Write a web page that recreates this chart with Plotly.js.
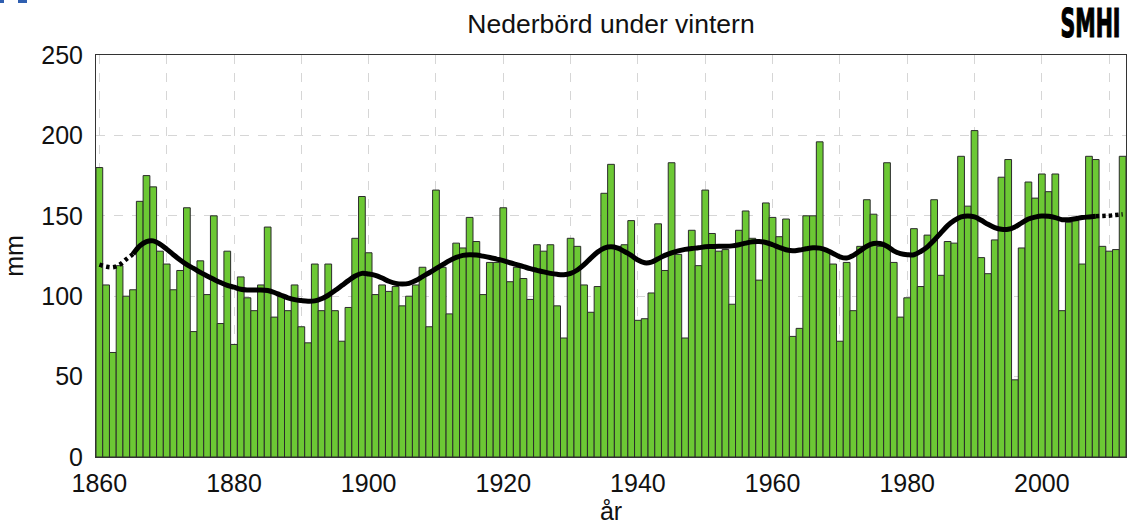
<!DOCTYPE html>
<html>
<head>
<meta charset="utf-8">
<script src="https://cdn.plot.ly/plotly-3.0.1.min.js"></script>
<style>
  html, body { margin: 0; padding: 0; background: #ffffff; }
  #chart { width: 1127px; height: 530px; }
</style>
</head>
<body>
<div id="chart"></div>
<script>
// ---- Data ----
const firstYear = 1860;
const lastYear = 2012;

// Winter precipitation (mm), one value per year 1860-2012
const precip = [
  180, 107, 65, 119, 100, 104, 159, 175, 168, 128,   // 1860-1869
  120, 104, 116, 155, 78, 122, 101, 150, 83, 128,    // 1870-1879
  70, 112, 99, 91, 107, 143, 87, 100, 91, 107,       // 1880-1889
  81, 71, 120, 91, 120, 91, 72, 93, 136, 162,        // 1890-1899
  127, 101, 107, 103, 106, 94, 100, 107, 118, 81,    // 1900-1909
  166, 118, 89, 133, 130, 149, 134, 101, 121, 121,   // 1910-1919
  155, 109, 118, 111, 98, 132, 128, 132, 94, 74,     // 1920-1929
  136, 131, 107, 90, 106, 164, 182, 131, 132, 147,   // 1930-1939
  85, 86, 102, 145, 116, 183, 126, 74, 141, 119,     // 1940-1949
  166, 139, 128, 129, 95, 141, 153, 136, 110, 158,   // 1950-1959
  149, 137, 148, 75, 80, 150, 150, 196, 129, 120,    // 1960-1969
  72, 121, 91, 131, 160, 151, 131, 183, 121, 87,     // 1970-1979
  99, 142, 106, 138, 160, 113, 134, 133, 187, 156,   // 1980-1989
  203, 124, 114, 135, 174, 185, 48, 130, 171, 161,   // 1990-1999
  176, 165, 176, 91, 146, 147, 120, 187, 185, 131,   // 2000-2009
  128, 129, 187                                      // 2010-2012
];

// Smoothed curve, solid part 1865-2008
const smoothStartYear = 1865;
const smoothSolid = [
  126.2, 131.3, 134.0, 134.4, 132.4,                         // 1865-1869
  129.3, 125.8, 122.5, 119.6, 117.3, 114.8, 112.6, 110.5, 108.5, 106.8, // 1870-1879
  105.6, 104.3, 103.9, 103.9, 103.9, 103.5, 102.3, 100.6, 99.0, 97.9,   // 1880-1889
  97.3, 96.9, 97.1, 98.4, 100.6, 103.5, 106.6, 109.7, 112.6, 114.2,     // 1890-1899
  113.8, 113.0, 111.3, 109.3, 108.0, 107.6, 108.0, 109.7, 112.2, 114.6, // 1900-1909
  117.1, 119.6, 122.1, 124.1, 125.4, 125.8, 125.6, 124.9, 124.1, 123.1, // 1910-1919
  122.1, 120.8, 119.6, 118.4, 117.1, 116.1, 115.1, 114.2, 113.6, 113.4, // 1920-1929
  114.2, 116.3, 119.6, 123.7, 127.4, 129.9, 130.7, 129.9, 127.8, 125.4, // 1930-1939
  122.5, 120.8, 121.2, 123.3, 125.4, 127.0, 128.2, 129.1, 129.7, 130.1, // 1940-1949
  130.7, 130.9, 131.1, 131.1, 131.3, 132.0, 133.0, 133.8, 134.0, 133.4, // 1950-1959
  132.0, 130.3, 128.9, 128.2, 128.7, 129.5, 130.1, 129.9, 128.7, 126.6, // 1960-1969
  124.5, 123.7, 125.4, 128.2, 131.1, 132.8, 132.8, 131.1, 128.2, 126.5, // 1970-1979
  125.8, 125.8, 127.8, 130.7, 134.8, 139.4, 143.9, 147.2, 149.3, 149.9, // 1980-1989
  149.3, 147.2, 144.7, 142.7, 141.6, 141.6, 143.1, 145.6, 148.0, 149.2, // 1990-1999
  149.9, 149.7, 148.9, 147.6, 147.6, 148.2, 148.9, 149.3, 149.7         // 2000-2008
];

// Dotted ends of the smoothed curve
const dotStartYears = [1860, 1861, 1862, 1863, 1864, 1865];
const dotStartVals  = [119.6, 118.4, 118.0, 119.6, 123.0, 126.2];
const dotEndYears   = [2008, 2009, 2010, 2011, 2012];
const dotEndVals    = [149.7, 149.9, 150.1, 150.5, 150.9];

const xTickLabels = ['1860', '1880', '1900', '1920', '1940', '1960', '1980', '2000'];
const yTickLabels = ['0', '50', '100', '150', '200', '250'];

// ---- Build traces ----
const years = [];
for (let y = firstYear; y <= lastYear; y++) years.push(y);
const smoothYears = smoothSolid.map((_, i) => smoothStartYear + i);

const FONT = 'Liberation Sans, Arial, Helvetica, sans-serif';

const traces = [
  {
    type: 'bar',
    x: years,
    y: precip,
    marker: { color: '#6cc834', line: { color: '#2b2b2b', width: 1 } },
    hoverinfo: 'skip',
    showlegend: false
  },
  {
    type: 'scatter',
    mode: 'lines',
    x: smoothYears,
    y: smoothSolid,
    line: { color: '#000000', width: 5, shape: 'spline', smoothing: 1 },
    hoverinfo: 'skip',
    showlegend: false
  },
  {
    type: 'scatter',
    mode: 'lines',
    x: dotStartYears,
    y: dotStartVals,
    line: { color: '#000000', width: 4.5, dash: '3.5px,3.5px', shape: 'spline' },
    hoverinfo: 'skip',
    showlegend: false
  },
  {
    type: 'scatter',
    mode: 'lines',
    x: dotEndYears,
    y: dotEndVals,
    line: { color: '#000000', width: 4.5, dash: '3.5px,3px', shape: 'spline' },
    hoverinfo: 'skip',
    showlegend: false
  }
];

const GRID = '#d6d6d6';

const layout = {
  width: 1127,
  height: 530,
  margin: { l: 96, r: 1, t: 55, b: 73, pad: 0 },
  paper_bgcolor: '#ffffff',
  plot_bgcolor: '#ffffff',
  font: { family: FONT, color: '#111111', size: 25 },
  bargap: 0,
  showlegend: false,
  title: {
    text: 'Nederbörd under vintern',
    font: { family: FONT, size: 26.5, color: '#111111' },
    x: 0.5, xref: 'paper', xanchor: 'center',
    y: 1 - 24 / 530, yref: 'container', yanchor: 'middle'
  },
  xaxis: {
    range: [1859.5, 2012.5],
    tickmode: 'array',
    tickvals: xTickLabels.map(Number),
    ticktext: xTickLabels,
    ticks: '',
    ticklabelstandoff: 4,
    tickfont: { family: FONT, size: 25, color: '#111111' },
    showgrid: true,
    gridcolor: GRID,
    griddash: 'dash',
    gridwidth: 1,
    minor: { dtick: 10, tick0: 1860, showgrid: true, gridcolor: GRID, griddash: 'dash', gridwidth: 1, ticks: '' },
    showline: true,
    linecolor: '#333333',
    linewidth: 1,
    mirror: true,
    zeroline: false,
    title: { text: 'år', font: { family: FONT, size: 25, color: '#111111' }, standoff: 4 },
    fixedrange: true
  },
  yaxis: {
    range: [0, 250],
    tickmode: 'array',
    tickvals: yTickLabels.map(Number),
    ticktext: yTickLabels,
    ticks: '',
    ticklabelstandoff: 7,
    tickfont: { family: FONT, size: 25, color: '#111111' },
    showgrid: true,
    gridcolor: GRID,
    griddash: 'dash',
    gridwidth: 1,
    showline: true,
    linecolor: '#333333',
    linewidth: 1,
    mirror: true,
    zeroline: false,
    title: { text: 'mm', font: { family: FONT, size: 25, color: '#111111' }, standoff: 11 },
    fixedrange: true
  },
  annotations: [
    {
      text: '<b>SMHI</b>',
      xref: 'paper', yref: 'paper',
      x: (1090 - 96) / 1030, y: (457 - 24) / 402,
      xanchor: 'center', yanchor: 'middle',
      showarrow: false,
      font: { family: 'Liberation Sans Narrow, DejaVu Sans Condensed, Arial Narrow, sans-serif', size: 27, color: '#000000' }
    }
  ],
  shapes: [
    { type: 'rect', xref: 'paper', yref: 'paper',
      x0: (0 - 96) / 1030, x1: (4 - 96) / 1030, y0: (457 - 3) / 402, y1: (457 + 1) / 402,
      fillcolor: '#2f5fb0', line: { width: 0 } },
    { type: 'rect', xref: 'paper', yref: 'paper',
      x0: (18 - 96) / 1030, x1: (27 - 96) / 1030, y0: (457 - 3) / 402, y1: (457 + 1) / 402,
      fillcolor: '#2f5fb0', line: { width: 0 } }
  ]
};

Plotly.newPlot('chart', traces, layout, { staticPlot: true, displayModeBar: false }).then(function () {
  // Stretch the SMHI logo text into a tall, heavy wordmark (still real text)
  const t = document.querySelector('.annotation-text');
  if (t) {
    const bb = t.getBBox();
    const cx = bb.x + bb.width / 2;
    const cy = bb.y + bb.height / 2;
    const sx = 60 / bb.width;
    const sy = 1.45;
    t.setAttribute('transform',
      'translate(' + cx + ',' + cy + ') scale(' + sx + ',' + sy + ') translate(' + (-cx) + ',' + (-cy) + ')');
    t.setAttribute('stroke', '#000000');
    t.setAttribute('stroke-width', '0.8');
  }
});
</script>
</body>
</html>
